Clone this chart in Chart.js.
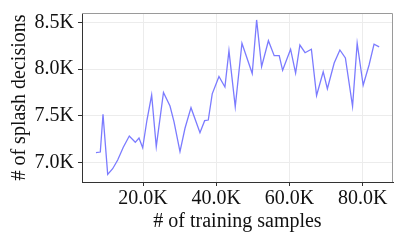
<!DOCTYPE html>
<html>
<head>
<meta charset="utf-8">
<script src="https://cdn.jsdelivr.net/npm/chart.js@4.4.1/dist/chart.umd.min.js"></script>
<style>
  html, body { margin: 0; padding: 0; background: #fff; }
  #wrap { width: 407px; height: 244px; }
</style>
</head>
<body>
<div id="wrap"><canvas id="grafico" width="407" height="244"></canvas></div>
<script>
// training samples (K) and splash decisions (K)
const amostras = [7.15, 8.33, 9.07, 10.35, 11.71, 13.08, 14.61, 16.25, 17.89, 18.90,
  19.91, 21.08, 22.36, 23.62, 25.59, 27.37, 28.46, 30.10, 31.47, 33.11,
  35.56, 36.84, 37.83, 38.91, 40.75, 42.38, 43.48, 45.20, 47.03, 49.84,
  51.04, 52.40, 54.26, 55.84, 57.21, 58.14, 60.32, 61.69, 62.86, 64.28,
  66.00, 67.42, 69.23, 70.37, 72.23, 73.79, 75.29, 77.25, 78.51, 80.15,
  81.76, 83.12, 84.52];
const decisoes = [7.107, 7.114, 7.517, 6.876, 6.936, 7.029, 7.165, 7.285, 7.218, 7.264,
  7.160, 7.456, 7.723, 7.171, 7.750, 7.606, 7.438, 7.118, 7.368, 7.588,
  7.321, 7.449, 7.456, 7.736, 7.921, 7.809, 8.197, 7.598, 8.276, 7.953,
  8.525, 8.026, 8.303, 8.143, 8.143, 7.987, 8.212, 7.958, 8.257, 8.175,
  8.212, 7.718, 7.972, 7.790, 8.065, 8.204, 8.119, 7.603, 8.276, 7.827,
  8.044, 8.266, 8.238];
const ticksX = [20000, 40000, 60000, 80000];
const ticksY = [7000, 7500, 8000, 8500];

const fonte = "'Liberation Serif', 'DejaVu Serif', serif";
const pontos = amostras.map((a, i) => ({ x: a * 1000, y: decisoes[i] * 1000 }));
const rotulo = (v) => (v / 1000).toFixed(1) + "K";

// gray frame around the plot area (top/right lighter)
const moldura = {
  id: "moldura",
  beforeDatasetsDraw(chart) {
    const { ctx, chartArea: a } = chart;
    ctx.save();
    ctx.strokeStyle = "#9a9a9a";
    ctx.lineWidth = 1;
    ctx.beginPath();
    ctx.moveTo(a.left, a.top + 0.5);
    ctx.lineTo(a.right - 0.5, a.top + 0.5);
    ctx.lineTo(a.right - 0.5, a.bottom);
    ctx.stroke();
    ctx.restore();
  }
};

new Chart(document.getElementById("grafico").getContext("2d"), {
  type: "scatter",
  data: {
    datasets: [{
      data: pontos,
      showLine: true,
      borderColor: "#7b7bff",
      borderWidth: 1.3,
      pointRadius: 0,
      tension: 0
    }]
  },
  options: {
    responsive: false,
    animation: false,
    layout: { padding: { left: 0, right: 14, top: 13, bottom: 0 } },
    plugins: { legend: { display: false }, tooltip: { enabled: false } },
    scales: {
      x: {
        type: "linear",
        min: 3330,
        max: 88300,
        afterFit: (s) => { s.height = 62; },
        afterBuildTicks: (s) => { s.ticks = ticksX.map(v => ({ value: v })); },
        ticks: { color: "#111", font: { family: fonte, size: 20 }, padding: 1, maxRotation: 0, callback: rotulo },
        grid: { color: "#ececec", lineWidth: 1, tickLength: 4, tickColor: "#333" },
        border: { display: true, color: "#333", width: 1 },
        title: { display: true, text: "# of training samples", color: "#111", font: { family: fonte, size: 20 }, padding: { top: 0, bottom: 10 } }
      },
      y: {
        min: 6794,
        max: 8599,
        afterFit: (s) => { s.width = 82; s.paddingTop = 0; s.paddingBottom = 0; },
        afterBuildTicks: (s) => { s.ticks = ticksY.map(v => ({ value: v })); },
        ticks: { color: "#111", font: { family: fonte, size: 20 }, padding: 4, callback: rotulo },
        grid: { color: "#ececec", lineWidth: 1, tickLength: 4, tickColor: "#333" },
        border: { display: true, color: "#333", width: 1 },
        title: { display: true, text: "# of splash decisions", color: "#111", font: { family: fonte, size: 20 }, padding: { top: 8, bottom: 0 } }
      }
    }
  },
  plugins: [moldura]
});
</script>
</body>
</html>
